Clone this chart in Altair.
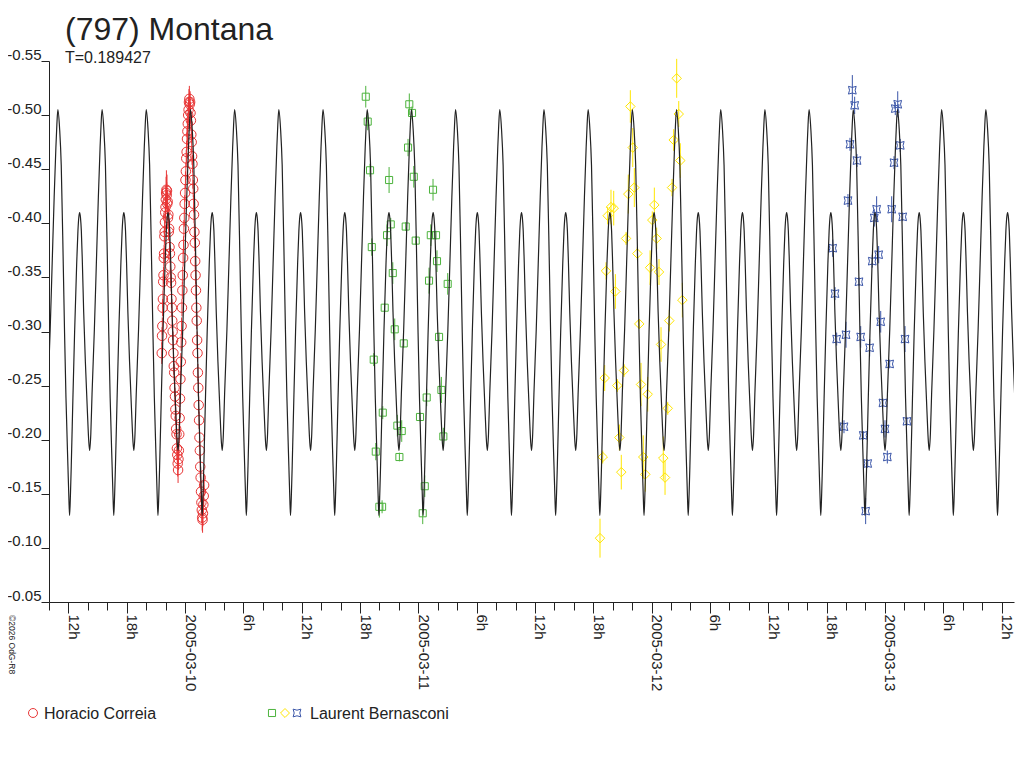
import datetime as dt
import altair as alt
import pandas as pd

# ---------------------------------------------------------------- data
PERIOD_DAYS = 0.189427            # rotation period shown under the title
EPOCH_HOURS = 0.552               # a main maximum, hours after 2005-03-10 00:00
BASE = pd.Timestamp("2005-03-10 00:00:00")

# one rotation of the model lightcurve: (phase, mag)
profile = [
    (0.000, -0.505), (0.040, -0.487), (0.076, -0.454), (0.122, -0.362),
    (0.151, -0.299), (0.183, -0.239), (0.228, -0.175), (0.250, -0.145),
    (0.265, -0.130), (0.285, -0.150), (0.303, -0.176), (0.340, -0.238),
    (0.379, -0.300), (0.425, -0.362), (0.454, -0.393), (0.475, -0.406),
    (0.493, -0.410), (0.512, -0.405), (0.531, -0.393), (0.554, -0.364),
    (0.584, -0.318), (0.622, -0.272), (0.667, -0.227), (0.700, -0.198),
    (0.720, -0.190), (0.745, -0.205), (0.773, -0.242), (0.826, -0.302),
    (0.871, -0.363), (0.916, -0.424), (0.955, -0.470), (0.977, -0.491),
]

# observations: (hours after 2005-03-10 00:00, relative mag, error)
horacio_correia = [
    (-2.40, -0.280, 0.010), (-2.37, -0.296, 0.008), (-2.34, -0.305, 0.008), (-2.31, -0.322, 0.008),
    (-2.28, -0.330, 0.008), (-2.25, -0.346, 0.008), (-2.22, -0.352, 0.008), (-2.19, -0.368, 0.008),
    (-2.16, -0.372, 0.008), (-2.13, -0.388, 0.008), (-2.10, -0.392, 0.010), (-2.07, -0.401, 0.008),
    (-2.04, -0.410, 0.010), (-2.01, -0.415, 0.010), (-1.98, -0.422, 0.012), (-1.95, -0.428, 0.015),
    (-1.92, -0.431, 0.018), (-1.89, -0.426, 0.012), (-1.86, -0.430, 0.015), (-1.83, -0.418, 0.010),
    (-1.79, -0.420, 0.010), (-1.76, -0.405, 0.008), (-1.72, -0.408, 0.008), (-1.68, -0.392, 0.008),
    (-1.64, -0.395, 0.008), (-1.60, -0.378, 0.008), (-1.56, -0.372, 0.008), (-1.52, -0.360, 0.008),
    (-1.48, -0.350, 0.008), (-1.44, -0.345, 0.008), (-1.40, -0.330, 0.008), (-1.36, -0.322, 0.008),
    (-1.32, -0.310, 0.008), (-1.28, -0.300, 0.008), (-1.24, -0.292, 0.008), (-1.20, -0.280, 0.008),
    (-1.16, -0.268, 0.008), (-1.12, -0.262, 0.008), (-1.08, -0.248, 0.008), (-1.04, -0.240, 0.008),
    (-1.00, -0.228, 0.008), (-0.96, -0.222, 0.008), (-0.92, -0.210, 0.008), (-0.88, -0.205, 0.010),
    (-0.84, -0.192, 0.010), (-0.80, -0.186, 0.010), (-0.76, -0.178, 0.012), (-0.72, -0.172, 0.012),
    (-0.68, -0.182, 0.010), (-0.64, -0.190, 0.008), (-0.60, -0.205, 0.008), (-0.56, -0.220, 0.008),
    (-0.52, -0.238, 0.008), (-0.48, -0.256, 0.008), (-0.44, -0.272, 0.008), (-0.40, -0.290, 0.008),
    (-0.36, -0.305, 0.008), (-0.32, -0.322, 0.008), (-0.28, -0.338, 0.008), (-0.24, -0.352, 0.008),
    (-0.20, -0.368, 0.008), (-0.16, -0.380, 0.008), (-0.12, -0.395, 0.008), (-0.08, -0.405, 0.008),
    (-0.04, -0.418, 0.008), (0.00, -0.428, 0.008), (0.04, -0.440, 0.008), (0.08, -0.448, 0.008),
    (0.12, -0.460, 0.008), (0.16, -0.466, 0.010), (0.20, -0.478, 0.010), (0.24, -0.485, 0.010),
    (0.28, -0.492, 0.010), (0.32, -0.500, 0.012), (0.36, -0.505, 0.012), (0.40, -0.512, 0.012),
    (0.44, -0.515, 0.012), (0.48, -0.510, 0.010), (0.52, -0.512, 0.010), (0.56, -0.502, 0.010),
    (0.60, -0.495, 0.008), (0.64, -0.482, 0.008), (0.68, -0.475, 0.008), (0.72, -0.462, 0.008),
    (0.76, -0.455, 0.008), (0.80, -0.440, 0.008), (0.84, -0.432, 0.008), (0.88, -0.418, 0.008),
    (0.92, -0.408, 0.008), (0.96, -0.392, 0.008), (1.00, -0.382, 0.008), (1.04, -0.365, 0.008),
    (1.08, -0.352, 0.008), (1.12, -0.338, 0.008), (1.16, -0.322, 0.008), (1.20, -0.310, 0.008),
    (1.24, -0.292, 0.008), (1.28, -0.280, 0.008), (1.32, -0.262, 0.008), (1.36, -0.248, 0.008),
    (1.40, -0.232, 0.008), (1.44, -0.218, 0.008), (1.48, -0.202, 0.008), (1.52, -0.190, 0.008),
    (1.56, -0.175, 0.010), (1.60, -0.165, 0.010), (1.64, -0.152, 0.010), (1.68, -0.142, 0.010),
    (1.72, -0.135, 0.012), (1.76, -0.128, 0.012), (1.80, -0.126, 0.012), (1.84, -0.132, 0.012),
    (1.88, -0.140, 0.010), (1.92, -0.148, 0.010), (1.96, -0.158, 0.010),
]

bernasconi_night1 = [
    (18.59, -0.517, 0.010), (18.79, -0.494, 0.008), (19.03, -0.449, 0.006), (20.99, -0.440, 0.012),
    (21.16, -0.399, 0.006), (20.78, -0.389, 0.010), (19.21, -0.378, 0.008), (21.37, -0.354, 0.010),
    (20.54, -0.322, 0.004), (21.57, -0.302, 0.010), (19.41, -0.274, 0.006), (20.34, -0.225, 0.006),
    (19.62, -0.189, 0.008), (19.99, -0.138, 0.010), (20.27, -0.138, 0.006), (23.07, -0.510, 0.010),
    (23.35, -0.502, 0.006), (22.94, -0.470, 0.008), (23.53, -0.443, 0.010), (22.70, -0.397, 0.004),
    (25.51, -0.431, 0.010), (23.73, -0.384, 0.004), (22.50, -0.289, 0.004), (21.84, -0.213, 0.010),
    (22.29, -0.208, 0.010), (22.05, -0.184, 0.004), (24.17, -0.221, 0.004), (24.86, -0.239, 0.008),
    (24.66, -0.157, 0.010), (24.45, -0.132, 0.010), (25.28, -0.389, 0.010), (25.82, -0.389, 0.004),
    (25.92, -0.365, 0.010), (25.10, -0.347, 0.012), (27.02, -0.344, 0.010), (26.13, -0.295, 0.004),
    (26.37, -0.246, 0.012), (26.57, -0.203, 0.008),
]

bernasconi_night2 = [
    (50.58, -0.534, 0.018), (50.79, -0.501, 0.012), (45.81, -0.508, 0.015), (46.06, -0.470, 0.018),
    (50.27, -0.477, 0.010), (50.95, -0.458, 0.016), (46.22, -0.433, 0.018), (45.60, -0.427, 0.018),
    (50.10, -0.433, 0.008), (43.82, -0.415, 0.016), (44.10, -0.414, 0.016), (43.48, -0.407, 0.008),
    (48.28, -0.417, 0.016), (48.07, -0.403, 0.008), (45.37, -0.386, 0.006), (48.52, -0.386, 0.010),
    (46.53, -0.372, 0.006), (47.84, -0.359, 0.016), (48.76, -0.355, 0.012), (43.31, -0.356, 0.008),
    (44.27, -0.337, 0.016), (51.16, -0.329, 0.016), (46.73, -0.307, 0.004), (49.82, -0.310, 0.010),
    (48.97, -0.288, 0.016), (43.17, -0.257, 0.012), (45.16, -0.264, 0.006), (44.47, -0.250, 0.006),
    (46.91, -0.251, 0.020), (47.60, -0.242, 0.016), (49.66, -0.229, 0.006), (44.68, -0.202, 0.012),
    (42.97, -0.184, 0.006), (47.14, -0.184, 0.020), (49.20, -0.183, 0.020), (44.88, -0.170, 0.016),
    (47.35, -0.168, 0.016), (49.38, -0.165, 0.016), (42.69, -0.109, 0.018),
]

bernasconi_night3 = [
    (68.65, -0.523, 0.014), (68.89, -0.509, 0.008), (68.41, -0.473, 0.006), (69.13, -0.458, 0.006),
    (68.20, -0.421, 0.006), (66.63, -0.377, 0.008), (66.87, -0.335, 0.006), (67.04, -0.293, 0.006),
    (68.00, -0.297, 0.012), (67.79, -0.212, 0.006), (69.33, -0.346, 0.004), (69.51, -0.295, 0.010),
    (70.43, -0.285, 0.008), (69.78, -0.204, 0.004), (70.23, -0.178, 0.004), (70.02, -0.134, 0.012),
    (71.15, -0.413, 0.012), (70.91, -0.405, 0.008), (71.36, -0.371, 0.008), (70.70, -0.365, 0.006),
    (71.57, -0.309, 0.010), (72.49, -0.270, 0.004), (71.80, -0.234, 0.004), (72.01, -0.210, 0.008),
    (72.25, -0.184, 0.006), (73.32, -0.510, 0.012), (73.07, -0.506, 0.006), (73.58, -0.472, 0.006),
    (72.94, -0.456, 0.006), (72.70, -0.413, 0.012), (73.83, -0.406, 0.004), (74.07, -0.293, 0.012),
    (74.27, -0.217, 0.004),
]

y_ticks = [-0.55, -0.50, -0.45, -0.40, -0.35, -0.30, -0.25, -0.20, -0.15, -0.10, -0.05]

# ---------------------------------------------------------------- frames
def obs_frame(rows):
    df = pd.DataFrame(rows, columns=["h", "mag", "err"])
    df["t"] = (BASE + pd.to_timedelta(df["h"], unit="h")).dt.round("s")
    df["lo"] = df["mag"] - df["err"]
    df["hi"] = df["mag"] + df["err"]
    return df

period_h = PERIOD_DAYS * 24.0
curve_rows = []
for k in range(-4, 21):
    for ph, m in profile:
        curve_rows.append({"h": EPOCH_HOURS + (k + ph) * period_h, "mag": m})
curve = pd.DataFrame(curve_rows)
curve["t"] = (BASE + pd.to_timedelta(curve["h"], unit="h")).dt.round("s")

red = obs_frame(horacio_correia)
green = obs_frame(bernasconi_night1)
yellow = obs_frame(bernasconi_night2)
blue = obs_frame(bernasconi_night3)

# ---------------------------------------------------------------- scales / axes
FONT = "Liberation Sans"
INK = "#222222"

x_ticks = []
t = dt.datetime(2005, 3, 9, 10)
while t <= dt.datetime(2005, 3, 13, 12):
    x_ticks.append(alt.DateTime(year=t.year, month=t.month, date=t.day, hours=t.hour))
    t += dt.timedelta(hours=2)

xscale = alt.Scale(domain=[alt.DateTime(year=2005, month=3, date=9, hours=10, minutes=0),
                           alt.DateTime(year=2005, month=3, date=13, hours=13, minutes=17)])
yscale = alt.Scale(domain=[-0.55, -0.05], reverse=True, nice=False, zero=False)

x_axis = alt.Axis(
    values=x_ticks,
    labelExpr="hours(datum.value) % 6 != 0 ? '' : (hours(datum.value) == 0 ? "
              "timeFormat(datum.value, '%Y-%m-%d') : hours(datum.value) + 'h')",
    labelAngle=90, labelAlign="left", labelBaseline="alphabetic",
    labelPadding=1, labelFont=FONT, labelFontSize=15, labelColor=INK,
    tickSize={"condition": {"test": "hours(datum.value) % 6 == 0", "value": 11}, "value": 8},
    tickColor=INK, domainColor=INK, grid=False, title=None,
    labelOverlap=False, labelFlush=False, labelBound=False,
)
y_axis = alt.Axis(
    values=y_ticks, labelExpr="'-' + format(abs(datum.value), '.2f')",
    tickSize=8, labelPadding=0, labelBaseline="alphabetic", labelOffset=-2,
    labelFont=FONT, labelFontSize=15, labelColor=INK,
    tickColor=INK, domainColor=INK, grid=False, title=None,
    labelOverlap=False, labelFlush=False,
)

X = alt.X("t:T", scale=xscale, axis=x_axis, title=None)
Y = alt.Y("mag:Q", scale=yscale, axis=y_axis, title=None)
Ylo = alt.Y("lo:Q", scale=yscale, axis=y_axis, title=None)

STAR = "M -1 -1 Q 0 -0.45 1 -1 Q 0.45 0 1 1 Q 0 0.45 -1 1 Q -0.45 0 -1 -1 Z"

def obs_layers(df, color, shape, size):
    bars = alt.Chart(df).mark_rule(color=color, strokeWidth=1).encode(x=X, y=Ylo, y2="hi:Q")
    pts = alt.Chart(df).mark_point(shape=shape, filled=False, color=color, size=size,
                                   strokeWidth=1, opacity=1).encode(x=X, y=Y)
    return [bars, pts]

layers = []
layers += obs_layers(red, "#E83535", "circle", 90)
layers += obs_layers(green, "#4DB33D", "square", 50)
layers += obs_layers(yellow, "#FFE600", "diamond", 90)
layers += obs_layers(blue, "#3A55A8", STAR, 60)

model = alt.Chart(curve).mark_line(color=INK, strokeWidth=1.2, interpolate="monotone",
                                   clip=True).encode(x=X, y=Y, order="h:Q")
layers.append(model)

# ---------------------------------------------------------------- legend + credit
one = pd.DataFrame({"k": [0]})
def sym(x, color, shape, size):
    return alt.Chart(one).mark_point(shape=shape, filled=False, color=color, size=size,
                                     strokeWidth=1, opacity=1).encode(
        x=alt.value(x), y=alt.value(652))
def label(x, text):
    return alt.Chart(one).mark_text(text=text, align="left", baseline="alphabetic",
                                    font=FONT, fontSize=16, color=INK).encode(
        x=alt.value(x), y=alt.value(658))

layers += [
    sym(-16, "#E83535", "circle", 80), label(-5, "Horacio Correia"),
    sym(223, "#4DB33D", "square", 50), sym(236, "#FFE600", "diamond", 80),
    sym(248, "#3A55A8", STAR, 60), label(261, "Laurent Bernasconi"),
    alt.Chart(one).mark_text(text="©2026 OdG-R8", angle=90, align="left",
                             baseline="alphabetic", font=FONT, fontSize=8.5,
                             color=INK).encode(x=alt.value(-40), y=alt.value(554)),
]

chart = alt.layer(*layers).properties(
    width=965, height=541,
    title=alt.TitleParams(
        text="(797) Montana", subtitle="T=0.189427", anchor="start", frame="group",
        dx=16, offset=-20, font=FONT, fontSize=32, fontWeight="normal", color=INK,
        subtitleFont=FONT, subtitleFontSize=16, subtitleColor=INK, subtitlePadding=3,
    ),
    autosize=alt.AutoSizeParams(type="none"),
    padding={"left": 41, "top": 53, "right": 2, "bottom": 130},
).configure(background="white").configure_view(stroke=None)

chart.save("out.html", embed_options={"renderer": "svg", "actions": False})
